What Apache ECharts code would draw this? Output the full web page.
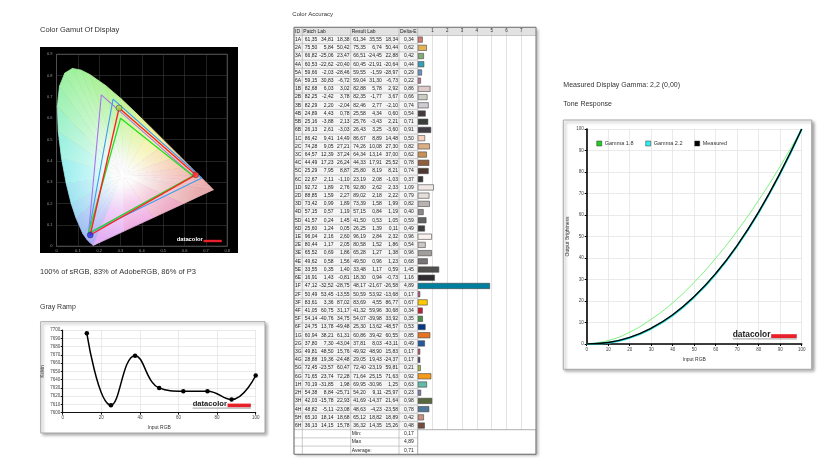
<!DOCTYPE html>
<html><head><meta charset="utf-8">
<script src="https://cdn.jsdelivr.net/npm/echarts@6/dist/echarts.min.js"></script>
<style>html,body{margin:0;padding:0;background:#fff;}#c{width:835px;height:470px;}</style>
</head><body><div id="c"></div>
<script>
const FONT = '"Liberation Sans", Arial, sans-serif';

// ---------- Color accuracy table ----------
const patchIds = ['1A','2A','3A','4A','5A','6A','1B','2B','3B','4B','5B','6B','1C','2C','3C','4C','5C','6C','1D','2D','3D','4D','5D','6D','1E','2E','3E','4E','5E','6E','1F','2F','3F','4F','5F','6F','1G','2G','3G','4G','5G','6G','1H','2H','3H','4H','5H','6H'];
const patchLab = [[61.35,34.81,18.38],[75.50,5.84,50.42],[66.82,-25.06,23.47],[60.53,-22.62,-20.40],[59.66,-2.03,-28.46],[59.15,30.83,-6.72],[82.68,6.03,3.02],[82.25,-2.42,3.78],[82.29,2.20,-2.04],[24.89,4.43,0.78],[25.16,-3.88,2.13],[26.13,2.61,-3.03],[86.42,9.41,14.49],[74.28,9.05,27.21],[64.57,12.39,37.24],[44.49,17.23,26.24],[25.29,7.95,8.87],[22.67,2.11,-1.10],[92.72,1.89,2.76],[88.85,1.59,2.27],[73.42,0.99,1.89],[57.15,0.57,1.19],[41.57,0.24,1.45],[25.60,1.24,0.05],[96.04,2.16,2.60],[80.44,1.17,2.05],[65.52,0.69,1.86],[49.62,0.58,1.56],[33.55,0.35,1.40],[16.91,1.43,-0.81],[47.12,-32.52,-28.75],[50.49,53.45,-13.55],[83.61,3.36,87.02],[41.05,60.75,31.17],[54.14,-40.76,34.75],[24.75,13.78,-49.48],[60.94,38.21,61.31],[37.80,7.30,-43.04],[49.81,48.50,15.76],[28.88,19.36,-24.48],[72.45,-23.57,60.47],[71.65,23.74,72.28],[70.19,-31.85,1.98],[54.38,8.84,-25.71],[42.03,-15.78,22.93],[48.82,-5.11,-23.08],[65.10,18.14,18.68],[36.13,14.15,15.78]];
const resultLab = [[61.34,35.55,18.34],[75.35,6.74,50.44],[66.51,-24.45,22.88],[60.45,-21.91,-20.64],[59.55,-1.59,-28.97],[59.04,31.30,-6.73],[82.88,5.78,2.92],[82.35,-1.77,3.67],[82.46,2.77,-2.10],[25.58,4.34,0.60],[25.76,-3.43,2.21],[26.43,3.25,-3.60],[86.67,8.89,14.48],[74.26,10.08,27.30],[64.34,13.14,37.00],[44.33,17.91,25.52],[25.80,8.19,8.21],[23.19,2.08,-1.03],[92.80,2.62,2.33],[89.02,2.18,2.22],[73.39,1.58,1.99],[57.15,0.84,1.19],[41.50,0.53,1.05],[26.25,1.39,0.11],[96.19,2.84,2.32],[80.58,1.52,1.86],[65.28,1.27,1.38],[49.50,0.96,1.23],[33.48,1.17,0.59],[18.30,0.94,-0.73],[48.17,-21.67,-26.58],[50.59,53.92,-13.68],[83.69,4.55,86.77],[41.32,59.96,30.68],[54.07,-39.98,33.92],[25.30,13.62,-48.57],[60.86,39.42,60.55],[37.81,8.03,-43.11],[49.92,48.90,15.83],[29.05,19.43,-24.37],[72.40,-23.19,59.81],[71.64,25.15,71.63],[69.95,-30.96,1.25],[54.20,9.11,-25.97],[41.69,-14.37,21.64],[48.63,-4.23,-23.58],[65.12,18.82,18.89],[36.32,14.35,15.26]];
const deltaE = [0.34,0.62,0.42,0.44,0.29,0.22,0.86,0.66,0.74,0.54,0.71,0.91,0.50,0.82,0.62,0.78,0.74,0.37,1.09,0.79,0.82,0.40,0.59,0.49,0.96,0.54,0.96,0.68,1.45,1.16,4.89,0.17,0.67,0.34,0.35,0.53,0.85,0.49,0.17,0.17,0.21,0.92,0.63,0.23,0.98,0.78,0.42,0.48];
const summaryLabels = ['Min:','Max','Average:'];
const summaryValues = [0.17,4.89,0.71];
const headerLabels = ['ID','Patch Lab','Result Lab','Delta-E'];

// ---------- Gray ramp ----------
const grayInput = [12.5,25,37.5,50,62.5,75,87.5,100];
const grayKelvin = [7696,7609,7669,7630,7626,7626,7616,7645];

// ---------- Tone response ----------
const toneInput = [0,10,20,30,40,50,60,70,80,90,100];
const gamma18 = [0,1.6,5.5,11.5,19.2,28.7,39.9,52.6,66.9,82.7,100];
const gamma22 = [0,0.6,2.9,7.1,13.3,21.8,32.5,45.6,61.2,79.3,100];
const measuredTone = [0,0.7,3.1,7.4,13.6,22.1,32.8,45.9,61.5,79.6,100];

// ---------- Gamut ----------
const srgbTri = [[0.64,0.33],[0.30,0.60],[0.15,0.06]];
const adobeTri = [[0.64,0.33],[0.21,0.71],[0.15,0.06]];
const p3Tri = [[0.68,0.32],[0.265,0.69],[0.15,0.06]];
const measuredTri = [[0.652,0.335],[0.293,0.648],[0.158,0.053]];
const whitePoint = [0.3127,0.329];
// spectral locus outline (x, y, tint) followed by line of purples
const locus = [
 [0.1741,0.0050,'#b4a6f4'],[0.1714,0.0051,'#b0a6f4'],[0.1644,0.0109,'#aaa8f4'],[0.1566,0.0177,'#a6acf4'],
 [0.1440,0.0297,'#a2b2f4'],[0.1241,0.0578,'#9ec0f2'],[0.0913,0.1327,'#9cd6f2'],[0.0687,0.2007,'#9ae4f0'],
 [0.0454,0.2950,'#98eeee'],[0.0235,0.4127,'#98f0de'],[0.0082,0.5384,'#98f0c6'],[0.0039,0.6548,'#98f0ae'],
 [0.0139,0.7502,'#98f0a0'],[0.0389,0.8120,'#9af09a'],[0.0743,0.8338,'#9cf098'],[0.1142,0.8262,'#a0f096'],
 [0.1547,0.8059,'#a6f094'],[0.2296,0.7543,'#b2f092'],[0.3016,0.6923,'#c6f092'],[0.3731,0.6245,'#def092'],
 [0.4441,0.5547,'#f0ee98'],[0.5125,0.4866,'#f2dc9e'],[0.5752,0.4242,'#f2c6a4'],[0.6270,0.3725,'#f0b6a8'],
 [0.6658,0.3340,'#eeaeaa'],[0.6915,0.3083,'#ecaaaa'],[0.7190,0.2809,'#eaa8aa'],[0.7347,0.2653,'#e8a8aa'],
 [0.594,0.200,'#eca8c2'],[0.454,0.135,'#eeaae0'],[0.314,0.070,'#e4acf2']
];

function fmt(v){ return v.toFixed(2).replace('.', ','); }
function lab2hex(L,a,b){
  const fy=(L+16)/116, fx=fy+a/500, fz=fy-b/200;
  const f=t=>{const t3=t*t*t; return t3>0.008856?t3:(t-16/116)/7.787;};
  const X=0.95047*f(fx), Y=f(fy), Z=1.08883*f(fz);
  let r=3.2406*X-1.5372*Y-0.4986*Z, g=-0.9689*X+1.8758*Y+0.0415*Z, bb=0.0557*X-0.2040*Y+1.0570*Z;
  const gm=c=>{c=c<=0.0031308?12.92*c:1.055*Math.pow(Math.max(c,0),1/2.4)-0.055; return Math.round(Math.min(1,Math.max(0,c))*255);};
  return 'rgb('+gm(r)+','+gm(g)+','+gm(bb)+')';
}
function tint(hex, t){ // blend hex colour toward white by factor t
  const n=parseInt(hex.slice(1),16), r=(n>>16)&255, g=(n>>8)&255, b=n&255;
  const m=c=>Math.round(c+(255-c)*t);
  return 'rgb('+m(r)+','+m(g)+','+m(b)+')';
}
function closed(t){ return t.concat([t[0]]); }

// table geometry
const T_LEFT=294, T_TOP=27.3, T_H=427, T_RIGHT=536;
const ROWS = 1 + patchIds.length + summaryLabels.length;
const RH = T_H/ROWS;
const COLX = [294,302.3,350.7,399,417.7];
const BAR_LEFT = 417.7;

const catData = ['H'].concat(patchIds, summaryLabels.map((s,i)=>'S'+i));
const barData = [null].concat(deltaE.map((v,i)=>({value:v,itemStyle:{color:lab2hex(resultLab[i][0],resultLab[i][1],resultLab[i][2])}})), summaryLabels.map(()=>null));

const cellBg='#f4f4f4', headBg='#e2e2e2', txt='#222';
const rich = {
  hi:{width:7.3,padding:[0,0,0,1],height:RH,lineHeight:RH,align:'left',backgroundColor:headBg,fontSize:5,color:txt,fontFamily:FONT},
  hp:{width:47.4,padding:[0,0,0,1],height:RH,lineHeight:RH,align:'left',backgroundColor:headBg,fontSize:5,color:txt,fontFamily:FONT},
  hr:{width:47.3,padding:[0,0,0,1],height:RH,lineHeight:RH,align:'left',backgroundColor:headBg,fontSize:5,color:txt,fontFamily:FONT},
  hd:{width:17.7,padding:[0,0,0,1],height:RH,lineHeight:RH,align:'left',backgroundColor:headBg,fontSize:5,color:txt,fontFamily:FONT},
  id:{width:7.3,padding:[0,0,0,1],height:RH,lineHeight:RH,align:'left',backgroundColor:cellBg,fontSize:5,color:txt,fontFamily:FONT},
  n:{width:15.13,padding:[0,1,0,0],height:RH,lineHeight:RH,align:'right',backgroundColor:cellBg,fontSize:5,color:txt,fontFamily:FONT},
  d:{width:14.7,padding:[0,4,0,0],height:RH,lineHeight:RH,align:'right',backgroundColor:cellBg,fontSize:5,color:txt,fontFamily:FONT},
  fi:{width:8.3,height:RH,lineHeight:RH,align:'left',fontSize:5,color:txt,fontFamily:FONT},
  fp:{width:48.4,height:RH,lineHeight:RH,align:'left',fontSize:5,color:txt,fontFamily:FONT},
  fr:{width:47.3,padding:[0,0,0,1],height:RH,lineHeight:RH,align:'left',fontSize:5,color:txt,fontFamily:FONT},
  fd:{width:14.7,padding:[0,4,0,0],height:RH,lineHeight:RH,align:'right',fontSize:5,color:txt,fontFamily:FONT}
};
function rowLabel(val, idx){
  if (idx===0) return '{hi|'+headerLabels[0]+'}{hp|'+headerLabels[1]+'}{hr|'+headerLabels[2]+'}{hd|'+headerLabels[3]+'}';
  if (idx<=patchIds.length){
    const k=idx-1, p=patchLab[k], r=resultLab[k];
    return '{id|'+patchIds[k]+'}{n|'+fmt(p[0])+'}{n|'+fmt(p[1])+'}{n|'+fmt(p[2])+'}{n|'+fmt(r[0])+'}{n|'+fmt(r[1])+'}{n|'+fmt(r[2])+'}{d|'+fmt(deltaE[k])+'}';
  }
  const s=idx-1-patchIds.length;
  return '{fi| }{fp| }{fr|'+summaryLabels[s]+'}{fd|'+fmt(summaryValues[s])+'}';
}

// graphic decorations
const G = [];
function text(x,y,s,size,opts){ G.push(Object.assign({type:'text',x:x,y:y,silent:true,z:10,style:Object.assign({text:s,fontSize:size,fontFamily:FONT,fill:'#333',verticalAlign:'middle',align:'left'},opts||{})})); }
function box(x,y,w,h,opts){ G.push(Object.assign({type:'rect',silent:true,z:-2,shape:{x:x,y:y,width:w,height:h}},opts)); }
function line(x1,y1,x2,y2,stroke,w,z){ G.push({type:'line',silent:true,z:z||6,shape:{x1:x1,y1:y1,x2:x2,y2:y2},style:{stroke:stroke,lineWidth:w}}); }
function logo(x,yb,size,col,barW,barH,under){
  G.push({type:'text',x:x,y:yb,silent:true,z:10,style:{text:'datacolor',fontSize:size,fontWeight:'bold',fontFamily:FONT,fill:col,verticalAlign:'bottom',align:'left'}});
  const tw = size*4.52;
  G.push({type:'rect',silent:true,z:10,shape:{x:x+tw+0.5,y:yb-barH-0.3,width:barW,height:barH},style:{fill:'#e8202a'}});
  if (under) line(x, yb+0.6, x+tw+barW+0.5, yb+0.6, '#555', 0.6, 10);
}

// titles
text(40,30,'Color Gamut Of Display',7.5);
text(40,272,'100% of sRGB, 83% of AdobeRGB, 86% of P3',7.5);
text(40,307.3,'Gray Ramp',7);
text(292.3,14.3,'Color Accuracy',6);
text(563.3,85,'Measured Display Gamma: 2,2 (0,00)',7);
text(563.3,104.3,'Tone Response',7);

// gamut backdrop
box(40,47,198,206,{style:{fill:'#000'}});
logo(176.7,242.5,5.8,'#fff',18.4,2.4,false);

// gray ramp box
box(40.7,321.7,224.3,111.3,{style:{fill:'#fff',stroke:'#a8a8a8',lineWidth:1,shadowBlur:3,shadowOffsetX:2,shadowOffsetY:2,shadowColor:'rgba(0,0,0,0.35)'}});
logo(192.7,407.5,7.6,'#222',23.3,3.6,true);

// tone box
box(563.3,120,248.4,249.3,{style:{fill:'#fff',stroke:'#a8a8a8',lineWidth:1,shadowBlur:3,shadowOffsetX:2,shadowOffsetY:2,shadowColor:'rgba(0,0,0,0.35)'}});
logo(732.7,338.3,8.4,'#222',25.6,3.8,true);

// table frame
box(T_LEFT,T_TOP,T_RIGHT-T_LEFT,T_H,{style:{fill:'#fff',shadowBlur:3,shadowOffsetX:2,shadowOffsetY:2,shadowColor:'rgba(0,0,0,0.35)'}});
box(BAR_LEFT,T_TOP,T_RIGHT-BAR_LEFT,RH,{z:-1,style:{fill:headBg}});
G.push({type:'rect',silent:true,z:5,shape:{x:BAR_LEFT,y:T_TOP+(1+patchIds.length)*RH,width:T_RIGHT-BAR_LEFT,height:summaryLabels.length*RH},style:{fill:'#fff',stroke:'#a9a9a9',lineWidth:0.6}});
for (let i=0;i<=ROWS;i++){
  const y=T_TOP+i*RH;
  const full = (i===0||i===1||i===1+patchIds.length||i===ROWS);
  line(T_LEFT,y,full?T_RIGHT:BAR_LEFT,y,'#a9a9a9',0.6,6);
}
COLX.forEach(x=>line(x,T_TOP,x,T_TOP+T_H,'#a9a9a9',0.6,6));
G.push({type:'rect',silent:true,z:7,shape:{x:T_LEFT,y:T_TOP,width:T_RIGHT-T_LEFT,height:T_H},style:{fill:'none',stroke:'#777',lineWidth:1}});

const smallLab = {fontSize:4.5,color:'#444',fontFamily:FONT,formatter:v=>String(v)};

const option = {
  animation:false,
  backgroundColor:'#fff',
  graphic: G,
  legend: {
    data:[{name:'Gamma 1.8',itemStyle:{color:'#22cc22'}},{name:'Gamma 2.2',itemStyle:{color:'#33eeee'}},{name:'Measured',itemStyle:{color:'#000'}}],
    left:591.5, top:135.5, itemWidth:5, itemHeight:5, itemGap:12, icon:'rect',
    itemStyle:{borderColor:'#333',borderWidth:0.5},
    textStyle:{fontSize:5.5,color:'#333',fontFamily:FONT,padding:[0,0,0,-2]}
  },
  grid: [
    {left:56.5, top:54.3, width:170.8, height:192, show:true, borderColor:'#8a8a8a', borderWidth:0.8, backgroundColor:'transparent'},
    {left:62.7, top:330, width:193, height:82.7},
    {left:BAR_LEFT, top:T_TOP, width:T_RIGHT-BAR_LEFT, height:T_H},
    {left:586.7, top:129, width:215, height:215}
  ],
  xAxis: [
    {gridIndex:0,type:'value',min:0,max:0.8,interval:0.1,axisLine:{show:false},axisTick:{show:false},
     splitLine:{lineStyle:{color:'#3a3a3a',width:0.6}},axisLabel:{fontSize:4,color:'#999',margin:2.5,fontFamily:FONT,formatter:v=>v===0?'0':v.toFixed(1)}},
    {gridIndex:1,type:'value',min:0,max:100,interval:20,axisLine:{lineStyle:{color:'#111',width:1.2}},axisTick:{length:2,lineStyle:{color:'#111'}},
     splitLine:{lineStyle:{color:'#dcdcdc',width:0.6}},axisLabel:Object.assign({margin:2.5},smallLab),
     name:'Input RGB',nameLocation:'middle',nameGap:12.5,nameTextStyle:{fontSize:5,color:'#333',fontFamily:FONT}},
    {gridIndex:2,type:'value',min:0,max:8,interval:1,position:'top',axisLine:{show:false},axisTick:{show:false},
     splitLine:{lineStyle:{color:'#cfcfcf',width:0.6}},
     axisLabel:{inside:true,margin:1,fontSize:4.5,color:'#333',fontFamily:FONT,formatter:v=>(v>=1&&v<=7)?String(v):''}},
    {gridIndex:3,type:'value',min:0,max:100,interval:10,axisLine:{lineStyle:{color:'#000',width:1.6}},axisTick:{length:2,lineStyle:{color:'#000'}},
     splitLine:{lineStyle:{color:'#dcdcdc',width:0.6}},axisLabel:Object.assign({margin:3},smallLab),
     name:'Input RGB',nameLocation:'middle',nameGap:13.5,nameTextStyle:{fontSize:5,color:'#333',fontFamily:FONT}}
  ],
  yAxis: [
    {gridIndex:0,type:'value',min:0,max:0.9,interval:0.1,axisLine:{show:false},axisTick:{show:false},
     splitLine:{lineStyle:{color:'#3a3a3a',width:0.6}},axisLabel:{fontSize:4,color:'#999',margin:4,fontFamily:FONT,formatter:v=>v===0?'0':v.toFixed(1)}},
    {gridIndex:1,type:'value',min:7600,max:7700,interval:10,axisLine:{show:true,lineStyle:{color:'#111',width:1.2}},axisTick:{show:true,length:2,lineStyle:{color:'#111'}},
     splitLine:{lineStyle:{color:'#dcdcdc',width:0.6}},axisLabel:Object.assign({margin:2.5},smallLab),
     name:'Kelvin',nameLocation:'middle',nameGap:17.5,nameTextStyle:{fontSize:4.5,color:'#333',fontFamily:FONT}},
    {gridIndex:2,type:'category',inverse:true,data:catData,axisLine:{show:false},axisTick:{show:false},splitLine:{show:false},
     axisLabel:{interval:0,margin:0,fontSize:5,color:txt,fontFamily:FONT,formatter:rowLabel,rich:rich}},
    {gridIndex:3,type:'value',min:0,max:100,interval:10,axisLine:{show:true,lineStyle:{color:'#000',width:1.6}},axisTick:{show:true,length:2,lineStyle:{color:'#000'}},
     splitLine:{lineStyle:{color:'#dcdcdc',width:0.6}},axisLabel:Object.assign({margin:3},smallLab),
     name:'Output Brightness',nameLocation:'middle',nameGap:16.5,nameTextStyle:{fontSize:5,color:'#333',fontFamily:FONT}}
  ],
  series: [
    {type:'custom',xAxisIndex:0,yAxisIndex:0,silent:true,z:2,clip:false,
     data:locus.map((p,i)=>[0.3,0.3,i]),
     renderItem:function(params,api){
       const i=api.value(2), a=locus[i], b=locus[(i+1)%locus.length];
       const c=api.coord(whitePoint), p1=api.coord([a[0],a[1]]), p2=api.coord([b[0],b[1]]);
       const m=[(p1[0]+p2[0])/2,(p1[1]+p2[1])/2];
       const grad=new echarts.graphic.LinearGradient(c[0],c[1],m[0],m[1],[{offset:0,color:'#ffffff'},{offset:0.15,color:'#fcfcfc'},{offset:0.55,color:tint(a[2],0.45)},{offset:1,color:tint(a[2],0.05)}],true);
       return {type:'polygon',shape:{points:[c,p1,p2]},style:{fill:grad,stroke:grad,lineWidth:0.8}};
     }},
    {type:'line',xAxisIndex:0,yAxisIndex:0,data:closed(adobeTri),symbol:'none',z:3,lineStyle:{color:'#a874ee',width:1.1},silent:true},
    {type:'line',xAxisIndex:0,yAxisIndex:0,data:closed(p3Tri),symbol:'none',z:3,lineStyle:{color:'#3c9cf0',width:1.1},silent:true},
    {type:'line',xAxisIndex:0,yAxisIndex:0,data:closed(srgbTri),symbol:'none',z:3,lineStyle:{color:'#22e022',width:1.3},silent:true},
    {type:'line',xAxisIndex:0,yAxisIndex:0,data:closed(measuredTri),symbol:'none',z:4,lineStyle:{color:'#ff2222',width:1.4},silent:true},
    {type:'scatter',xAxisIndex:0,yAxisIndex:0,z:5,symbolSize:6,silent:true,
     data:measuredTri.map((p,i)=>({value:p,itemStyle:{color:['#ff3030','#a6d84a','#2a2aff'][i]}})),
     itemStyle:{borderColor:'#333',borderWidth:0.6}},
    {type:'line',xAxisIndex:1,yAxisIndex:1,data:grayInput.map((x,i)=>[x,grayKelvin[i]]),smooth:0.45,
     symbol:'circle',symbolSize:4.5,itemStyle:{color:'#000'},lineStyle:{color:'#000',width:1.5},silent:true},
    {type:'bar',xAxisIndex:2,yAxisIndex:2,data:barData,barWidth:6,silent:true,itemStyle:{borderColor:'#444',borderWidth:0.6}},
    {name:'Gamma 1.8',type:'line',xAxisIndex:3,yAxisIndex:3,data:toneInput.map((x,i)=>[x,gamma18[i]]),smooth:true,symbol:'none',
     color:'#7cf07c',lineStyle:{color:'#7cf07c',width:1},silent:true},
    {name:'Gamma 2.2',type:'line',xAxisIndex:3,yAxisIndex:3,data:toneInput.map((x,i)=>[x,gamma22[i]]),smooth:true,symbol:'none',
     color:'#22dddd',lineStyle:{color:'#22dddd',width:2},silent:true},
    {name:'Measured',type:'line',xAxisIndex:3,yAxisIndex:3,data:toneInput.map((x,i)=>[x,measuredTone[i]]),smooth:true,symbol:'none',
     color:'#000',lineStyle:{color:'#000',width:1.4},silent:true}
  ]
};
const chart = echarts.init(document.getElementById('c'), null, {renderer:'canvas'});
chart.setOption(option);
</script></body></html>
